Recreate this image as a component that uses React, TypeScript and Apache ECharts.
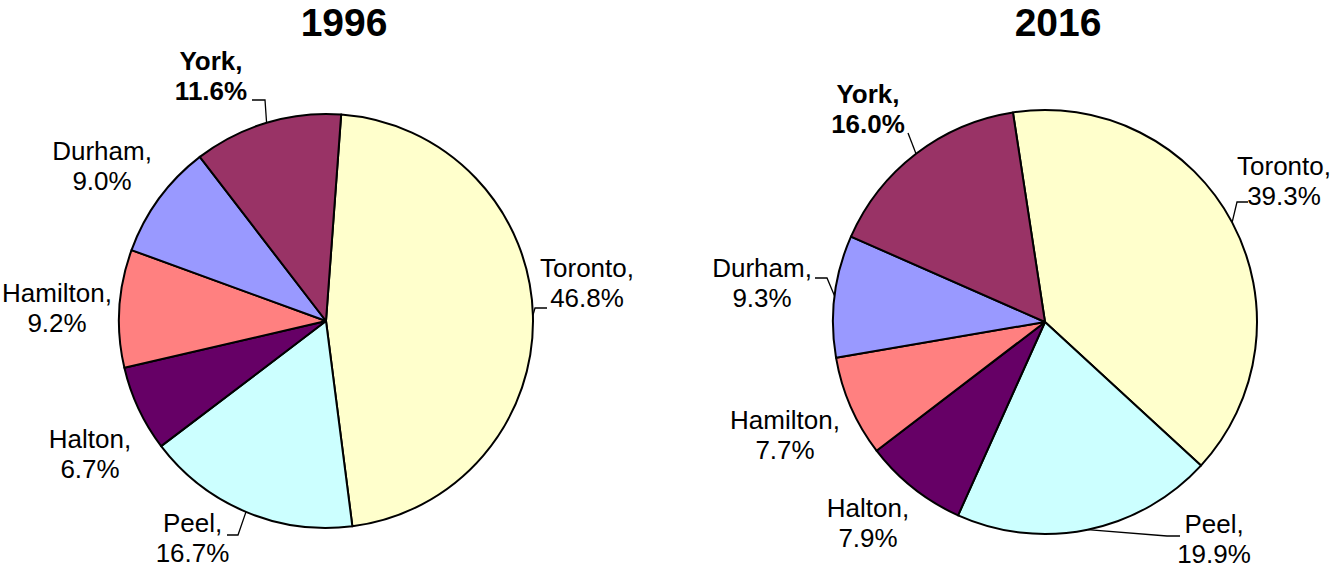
import React, { useEffect, useRef } from 'react';
import * as echarts from 'echarts';

// ---- data ----
const regions = ['Toronto', 'Peel', 'Halton', 'Hamilton', 'Durham', 'York'];
const share1996 = [46.8, 16.7, 6.7, 9.2, 9.0, 11.6];
const share2016 = [39.3, 19.9, 7.9, 7.7, 9.3, 16.0];
const years = ['1996', '2016'];

// ---- style / layout ----
const colors = ['#FFFFCC', '#CCFFFF', '#660066', '#FF8080', '#9999FF', '#993366'];
const FONT = '"Liberation Sans", Arial, Helvetica, sans-serif';

type Leader = [number, number, number] | null; // [dx, dy, bend] from label centre
type LabelPos = [number, number, Leader];

const pies = [
  { center: [326, 321], radius: 207, startAngle: 85.8, titleX: 344 },
  { center: [1045, 322], radius: 212, startAngle: 98.7, titleX: 1058 },
];

const labelPos1996: LabelPos[] = [
  [587, 283, [-40, 25, 12]],
  [192.5, 538, [34.5, -3, 11]],
  [90, 454, null],
  [57, 308, null],
  [102, 166, null],
  [211, 76, [41, 24, 13]],
];
const labelPos2016: LabelPos[] = [
  [1284, 181, [-36, 21, 11]],
  [1214, 539, [-34, -3, 13]],
  [868, 523, null],
  [785, 435, null],
  [762, 283, [53, -5, 12]],
  [868, 109, [40, 24, 0]],
];

function anchorOf(pieIdx: number, values: number[], idx: number): number[] {
  const p = pies[pieIdx];
  const total = values.reduce((a, b) => a + b, 0);
  let before = 0;
  for (let i = 0; i < idx; i++) before += values[i];
  const midFrac = (before + values[idx] / 2) / total;
  const ang = ((p.startAngle - midFrac * 360) * Math.PI) / 180;
  return [p.center[0] + p.radius * Math.cos(ang), p.center[1] - p.radius * Math.sin(ang)];
}

function makeLabelLayout(pieIdx: number, values: number[], cfg: LabelPos[]) {
  return (params: any) => {
    const c = cfg[params.dataIndex];
    const out: any = { x: c[0], y: c[1], align: 'center', verticalAlign: 'middle' };
    if (c[2]) {
      const [dx, dy, bend] = c[2];
      const pts = params.labelLinePoints;
      const a = pts && pts.length ? pts[0] : anchorOf(pieIdx, values, params.dataIndex);
      const ex = c[0] + dx;
      const ey = c[1] + dy;
      const bx = ex + (dx > 0 ? bend : -bend);
      out.labelLinePoints = [
        [a[0], a[1]],
        [bx, ey],
        [ex, ey],
      ];
    }
    return out;
  };
}

function makeSeries(pieIdx: number, values: number[], cfg: LabelPos[]) {
  const p = pies[pieIdx];
  return {
    type: 'pie',
    center: p.center,
    radius: p.radius,
    startAngle: p.startAngle,
    clockwise: true,
    avoidLabelOverlap: false,
    silent: true,
    emphasis: { disabled: true },
    itemStyle: { borderColor: '#000', borderWidth: 2 },
    label: {
      show: true,
      position: 'outside',
      formatter: (d: any) => `${d.name},\n${Number(d.value).toFixed(1)}%`,
      fontSize: 26,
      lineHeight: 30,
      fontFamily: FONT,
      color: '#000',
      overflow: 'none',
      align: 'center',
    },
    labelLine: { show: true, length: 6, length2: 6, lineStyle: { color: '#000', width: 1.3 } },
    labelLayout: makeLabelLayout(pieIdx, values, cfg),
    data: regions.map((name, i) => ({
      name,
      value: values[i],
      itemStyle: { color: colors[i] },
      label: i === 5 ? { fontWeight: 'bold' } : {},
      labelLine: { show: cfg[i][2] !== null },
    })),
  };
}

export default function App() {
  const ref = useRef<HTMLDivElement>(null);
  useEffect(() => {
    if (!ref.current) return;
    const chart = echarts.init(ref.current, undefined, { renderer: 'svg' });
    chart.setOption({
      animation: false,
      backgroundColor: '#ffffff',
      graphic: years.map((y, i) => ({
        type: 'text',
        x: pies[i].titleX,
        y: 22.5,
        style: {
          text: y,
          fontSize: 39,
          fontWeight: 'bold',
          fontFamily: FONT,
          fill: '#000',
          align: 'center',
          verticalAlign: 'middle',
        },
      })),
      series: [makeSeries(0, share1996, labelPos1996), makeSeries(1, share2016, labelPos2016)],
    });
    return () => chart.dispose();
  }, []);
  return (
    <div
      ref={ref}
      style={{ position: 'fixed', left: 0, top: 0, width: 1335, height: 569, background: '#fff' }}
    />
  );
}
